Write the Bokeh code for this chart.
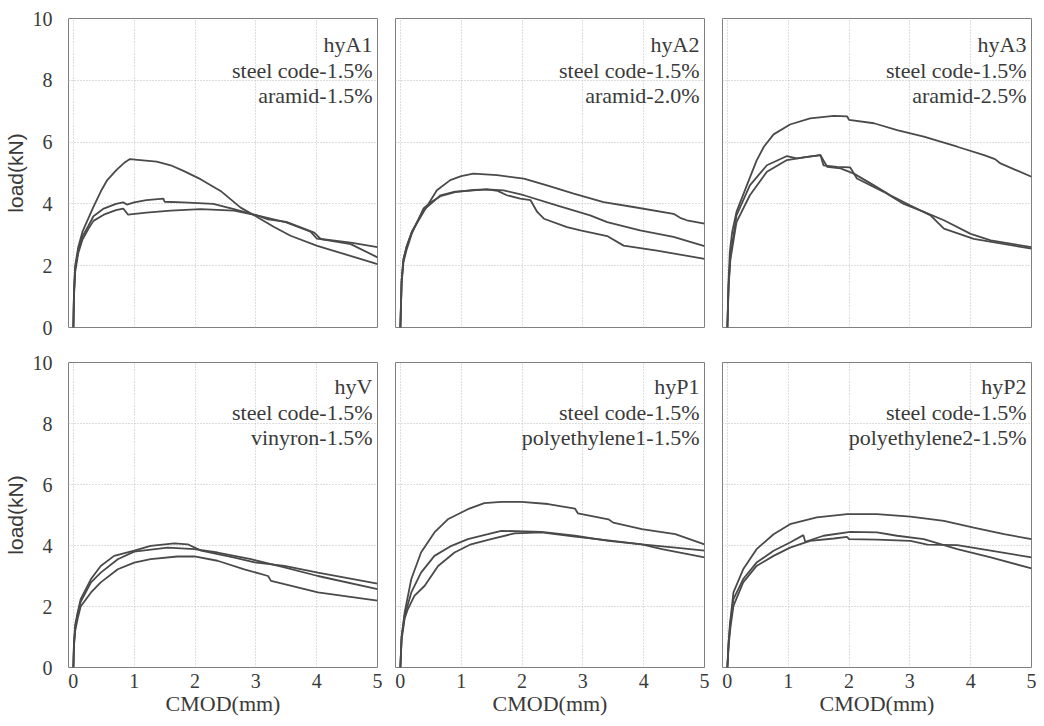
from bokeh.plotting import figure
from bokeh.layouts import column, row
from bokeh.models import Range1d, Label, FixedTicker
from bokeh.embed import file_html
from bokeh.resources import INLINE

# ---------------- data (CMOD in mm, load in kN) ----------------
x_ticks = [0, 1, 2, 3, 4, 5]
y_ticks = [0, 2, 4, 6, 8, 10]
x_title = "CMOD(mm)"
y_title = "load(kN)"

# hyA1
A1_x1 = [0, 0.01, 0.03, 0.08, 0.15, 0.25, 0.33, 0.45, 0.55, 0.71, 0.85, 0.93, 1.1, 1.37, 1.6, 1.81, 2.09, 2.42, 2.75, 3.0, 3.3, 3.57, 4.01, 4.5, 5.0]
A1_y1 = [0, 1.2, 2.0, 2.6, 3.1, 3.55, 3.9, 4.4, 4.75, 5.1, 5.35, 5.45, 5.42, 5.37, 5.25, 5.07, 4.8, 4.42, 3.88, 3.6, 3.25, 2.97, 2.64, 2.35, 2.05]
A1_x2 = [0, 0.01, 0.03, 0.08, 0.15, 0.25, 0.33, 0.5, 0.7, 0.82, 0.88, 1.0, 1.2, 1.48, 1.5, 1.8, 2.3, 2.64, 3.0, 3.2, 3.5, 3.96, 4.07, 4.56, 5.0]
A1_y2 = [0, 1.1, 1.9, 2.5, 2.95, 3.3, 3.6, 3.85, 4.0, 4.05, 3.98, 4.05, 4.12, 4.17, 4.07, 4.05, 4.0, 3.83, 3.64, 3.5, 3.42, 3.07, 2.86, 2.7, 2.27]
A1_x3 = [0, 0.01, 0.03, 0.08, 0.15, 0.25, 0.33, 0.5, 0.7, 0.82, 0.9, 1.2, 1.6, 2.09, 2.64, 3.0, 3.5, 3.9, 4.0, 4.56, 5.0]
A1_y3 = [0, 1.0, 1.8, 2.4, 2.85, 3.2, 3.45, 3.65, 3.8, 3.85, 3.65, 3.72, 3.78, 3.83, 3.78, 3.64, 3.4, 3.1, 2.88, 2.75, 2.6]

# hyA2
A2_x1 = [0, 0.02, 0.05, 0.1, 0.19, 0.38, 0.6, 0.82, 1.0, 1.2, 1.59, 2.03, 2.41, 2.85, 3.34, 3.83, 4.49, 4.6, 4.71, 5.0]
A2_y1 = [0, 1.5, 2.2, 2.6, 3.1, 3.74, 4.44, 4.77, 4.9, 4.98, 4.93, 4.82, 4.6, 4.33, 4.06, 3.9, 3.68, 3.55, 3.47, 3.36]
A2_x2 = [0, 0.02, 0.05, 0.1, 0.19, 0.38, 0.5, 0.66, 0.9, 1.2, 1.42, 1.7, 2.03, 2.57, 3.12, 3.4, 3.94, 4.49, 5.0]
A2_y2 = [0, 1.5, 2.2, 2.6, 3.1, 3.8, 4.0, 4.28, 4.4, 4.44, 4.47, 4.44, 4.28, 3.95, 3.63, 3.41, 3.14, 2.93, 2.63]
A2_x3 = [0, 0.02, 0.05, 0.1, 0.19, 0.38, 0.5, 0.66, 0.9, 1.2, 1.42, 1.6, 1.75, 1.97, 2.14, 2.25, 2.36, 2.74, 2.96, 3.4, 3.67, 4.22, 5.0]
A2_y3 = [0, 1.4, 2.1, 2.5, 3.05, 3.85, 4.05, 4.25, 4.38, 4.45, 4.47, 4.42, 4.28, 4.17, 4.12, 3.74, 3.52, 3.25, 3.14, 2.96, 2.65, 2.49, 2.22]

# hyA3
A3_x1 = [0, 0.02, 0.04, 0.08, 0.15, 0.32, 0.48, 0.6, 0.76, 1.03, 1.36, 1.75, 1.97, 2.0, 2.41, 2.79, 3.23, 3.78, 4.22, 4.4, 4.49, 5.0]
A3_y1 = [0, 1.5, 2.44, 3.1, 3.74, 4.6, 5.4, 5.85, 6.25, 6.57, 6.77, 6.85, 6.83, 6.72, 6.61, 6.39, 6.18, 5.85, 5.58, 5.45, 5.31, 4.88]
A3_x2 = [0, 0.02, 0.05, 0.15, 0.37, 0.65, 0.98, 1.14, 1.53, 1.64, 1.86, 2.08, 2.41, 2.68, 3.01, 3.34, 3.56, 4.05, 5.0]
A3_y2 = [0, 1.4, 2.3, 3.63, 4.6, 5.25, 5.55, 5.47, 5.58, 5.2, 5.15, 4.98, 4.6, 4.28, 3.95, 3.63, 3.2, 2.87, 2.55]
A3_x3 = [0, 0.02, 0.05, 0.15, 0.37, 0.65, 0.98, 1.31, 1.53, 1.58, 1.8, 2.02, 2.13, 2.57, 2.9, 3.23, 3.56, 4.0, 4.33, 5.0]
A3_y3 = [0, 1.3, 2.2, 3.41, 4.28, 5.04, 5.42, 5.52, 5.58, 5.25, 5.2, 5.18, 4.82, 4.39, 4.0, 3.74, 3.47, 3.03, 2.82, 2.6]

# hyV
V_x1 = [0, 0.01, 0.03, 0.07, 0.12, 0.29, 0.45, 0.67, 1.0, 1.27, 1.66, 1.88, 2.1, 2.65, 2.98, 3.47, 4.02, 5.0]
V_y1 = [0, 0.8, 1.4, 1.8, 2.24, 2.9, 3.33, 3.66, 3.83, 3.99, 4.07, 4.04, 3.83, 3.6, 3.45, 3.33, 3.11, 2.75]
V_x2 = [0, 0.01, 0.03, 0.07, 0.12, 0.29, 0.45, 0.73, 1.0, 1.55, 1.99, 2.37, 2.92, 3.47, 4.02, 5.0]
V_y2 = [0, 0.8, 1.3, 1.75, 2.15, 2.79, 3.11, 3.55, 3.8, 3.93, 3.88, 3.77, 3.55, 3.28, 3.0, 2.57]
V_x3 = [0, 0.01, 0.03, 0.07, 0.12, 0.29, 0.45, 0.73, 1.0, 1.27, 1.71, 1.99, 2.37, 2.81, 3.2, 3.25, 3.47, 4.02, 5.0]
V_y3 = [0, 0.7, 1.2, 1.6, 2.0, 2.46, 2.79, 3.22, 3.44, 3.55, 3.64, 3.64, 3.5, 3.22, 3.0, 2.84, 2.73, 2.46, 2.19]

# hyP1
P1_x1 = [0, 0.02, 0.07, 0.18, 0.34, 0.56, 0.78, 1.11, 1.38, 1.66, 1.99, 2.43, 2.87, 2.92, 3.42, 3.5, 3.97, 4.52, 5.0]
P1_y1 = [0, 1.0, 1.8, 2.9, 3.77, 4.43, 4.86, 5.19, 5.39, 5.43, 5.43, 5.36, 5.21, 5.05, 4.86, 4.75, 4.54, 4.37, 4.04]
P1_x2 = [0, 0.02, 0.07, 0.18, 0.34, 0.56, 0.84, 1.11, 1.44, 1.66, 2.32, 2.87, 3.42, 3.97, 4.3, 5.0]
P1_y2 = [0, 1.0, 1.7, 2.46, 3.11, 3.66, 3.99, 4.21, 4.37, 4.48, 4.45, 4.32, 4.15, 4.04, 3.88, 3.61]
P1_x3 = [0, 0.02, 0.07, 0.12, 0.23, 0.4, 0.62, 0.89, 1.16, 1.49, 1.88, 2.32, 2.87, 3.42, 3.97, 4.52, 5.0]
P1_y3 = [0, 0.9, 1.6, 1.9, 2.35, 2.68, 3.33, 3.77, 4.04, 4.21, 4.4, 4.43, 4.29, 4.17, 4.04, 3.93, 3.83]

# hyP2
P2_x1 = [0, 0.02, 0.04, 0.1, 0.26, 0.48, 0.76, 1.03, 1.47, 1.97, 2.46, 3.01, 3.56, 4.05, 4.55, 5.0]
P2_y1 = [0, 0.8, 1.37, 2.46, 3.22, 3.88, 4.37, 4.7, 4.92, 5.03, 5.03, 4.95, 4.81, 4.59, 4.37, 4.21]
P2_x2 = [0, 0.02, 0.05, 0.1, 0.26, 0.48, 0.76, 1.03, 1.25, 1.28, 1.58, 2.02, 2.46, 2.79, 3.23, 3.78, 4.33, 5.0]
P2_y2 = [0, 0.8, 1.5, 2.24, 2.9, 3.44, 3.83, 4.1, 4.34, 4.12, 4.32, 4.45, 4.43, 4.32, 4.21, 3.88, 3.61, 3.25]
P2_x3 = [0, 0.02, 0.05, 0.1, 0.26, 0.48, 0.76, 1.03, 1.36, 1.75, 1.97, 2.0, 2.46, 3.01, 3.29, 3.78, 4.33, 5.0]
P2_y3 = [0, 0.7, 1.3, 2.02, 2.79, 3.33, 3.66, 3.93, 4.15, 4.23, 4.28, 4.21, 4.19, 4.15, 4.03, 4.01, 3.83, 3.61]

panel_names = ["hyA1", "hyA2", "hyA3", "hyV", "hyP1", "hyP2"]
panel_fiber = ["aramid-1.5%", "aramid-2.0%", "aramid-2.5%", "vinyron-1.5%", "polyethylene1-1.5%", "polyethylene2-1.5%"]
steel_text = "steel code-1.5%"

panel_curves = [
    [(A1_x1, A1_y1), (A1_x2, A1_y2), (A1_x3, A1_y3)],
    [(A2_x1, A2_y1), (A2_x2, A2_y2), (A2_x3, A2_y3)],
    [(A3_x1, A3_y1), (A3_x2, A3_y2), (A3_x3, A3_y3)],
    [(V_x1, V_y1), (V_x2, V_y2), (V_x3, V_y3)],
    [(P1_x1, P1_y1), (P1_x2, P1_y2), (P1_x3, P1_y3)],
    [(P2_x1, P2_y1), (P2_x2, P2_y2), (P2_x3, P2_y3)],
]

SERIF = "Liberation Serif"
SANS = "Liberation Sans"
TXT = "#3a3a3a"
LINE = "#4a4a4a"


def make_panel(idx):
    r, c = divmod(idx, 3)
    left = 60 if c == 0 else 9
    right = 5 if c == 2 else 9
    top = 18
    bottom = 17 if r == 0 else 50
    fh = 309 if r == 0 else 305
    p = figure(frame_width=309, frame_height=fh,
               x_range=Range1d(-0.08, 5.0), y_range=Range1d(0, 10),
               min_border_left=left, min_border_right=right,
               min_border_top=top, min_border_bottom=bottom,
               output_backend="svg", toolbar_location=None)
    p.background_fill_color = "white"
    p.border_fill_color = "white"
    p.outline_line_color = "#808080"
    p.outline_line_width = 1

    p.xaxis.ticker = FixedTicker(ticks=x_ticks)
    p.yaxis.ticker = FixedTicker(ticks=y_ticks)
    for ax in (p.xaxis[0], p.yaxis[0]):
        ax.axis_line_color = None
        ax.major_tick_line_color = None
        ax.minor_tick_line_color = None
        ax.major_label_text_color = TXT
        ax.major_label_text_font = SERIF
    p.xaxis.major_label_text_font_size = "20px"
    p.xaxis.major_label_standoff = 0
    p.yaxis.major_label_text_font_size = "20px"
    p.yaxis.major_label_standoff = 10

    if r == 1:
        p.xaxis.axis_label = x_title
        p.xaxis.axis_label_text_font = SERIF
        p.xaxis.axis_label_text_font_style = "normal"
        p.xaxis.axis_label_text_font_size = "22px"
        p.xaxis.axis_label_text_color = TXT
        p.xaxis.axis_label_standoff = 0
    else:
        p.xaxis.visible = False
    if c == 0:
        p.yaxis.axis_label = y_title
        p.yaxis.axis_label_text_font = SANS
        p.yaxis.axis_label_text_font_style = "normal"
        p.yaxis.axis_label_text_font_size = "21px"
        p.yaxis.axis_label_text_color = TXT
        p.yaxis.axis_label_standoff = 3
    else:
        p.yaxis.visible = False

    p.xgrid.grid_line_color = "#bdbdbd"
    p.ygrid.grid_line_color = "#bdbdbd"
    p.xgrid.grid_line_dash = "1 2"
    p.ygrid.grid_line_dash = "1 2"
    p.xgrid.grid_line_width = 1
    p.ygrid.grid_line_width = 1

    for xs, ys in panel_curves[idx]:
        p.line(xs, ys, line_color=LINE, line_width=1.8)

    offs = [-26, -52, -77] if r == 0 else [-24, -50, -75]
    texts = [panel_names[idx], steel_text, panel_fiber[idx]]
    for t, o in zip(texts, offs):
        p.add_layout(Label(x=5.0, y=10, x_offset=-5, y_offset=o, text=t,
                           text_align="right", text_baseline="alphabetic",
                           text_font=SERIF, text_font_size="22px", text_color=TXT))
    return p


panels = [make_panel(i) for i in range(6)]
layout = column(row(*panels[:3], spacing=0), row(*panels[3:], spacing=0), spacing=0)

open("out.html", "w").write(file_html(layout, INLINE))
